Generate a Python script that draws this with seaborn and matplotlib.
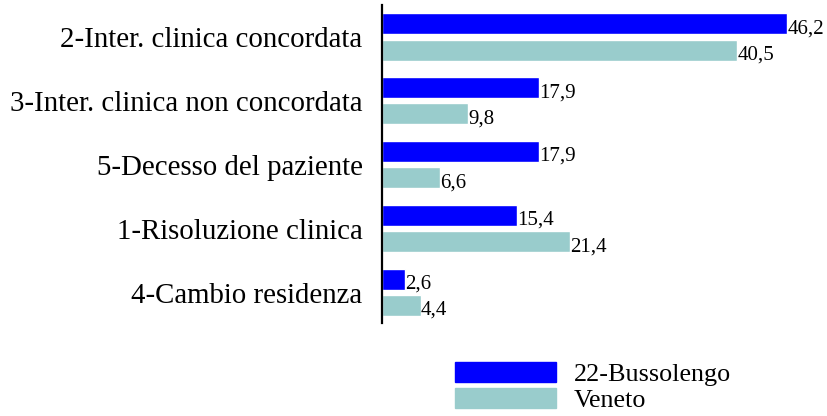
import numpy as np
import matplotlib
matplotlib.use('Agg')
import matplotlib.pyplot as plt
import seaborn as sns
import pandas as pd

# data
categories = ['2-Inter. clinica concordata',
              '3-Inter. clinica non concordata',
              '5-Decesso del paziente',
              '1-Risoluzione clinica',
              '4-Cambio residenza']
bussolengo = [46.2, 17.9, 17.9, 15.4, 2.6]
veneto = [40.5, 9.8, 6.6, 21.4, 4.4]
series_names = ['22-Bussolengo', 'Veneto']
colors = ['#0000FF', '#99CCCC']

df = pd.DataFrame({
    'categoria': categories * 2,
    'valore': bussolengo + veneto,
    'serie': [series_names[0]] * len(categories) + [series_names[1]] * len(categories),
})

sns.set_style('white')
plt.rcParams['font.family'] = ['Liberation Serif', 'DejaVu Serif']
plt.rcParams['text.color'] = 'black'
plt.rcParams['ytick.color'] = 'black'
plt.rcParams['axes.labelcolor'] = 'black'

fig = plt.figure(figsize=(8.28, 4.16), dpi=100)
ax = fig.add_axes([382/828, 1 - 322.6/416, 438.5/828, 317.6/416])

sns.barplot(data=df, x='valore', y='categoria', hue='serie', order=categories,
            hue_order=series_names, palette=colors, orient='h',
            width=0.82, gap=0.2, saturation=1, ax=ax, legend=False)

# value labels with comma decimals
for cont, vals in zip(ax.containers, [bussolengo, veneto]):
    texts = ax.bar_label(cont, labels=[f'{v:.1f}'.replace('.', ',') for v in vals],
                         padding=0, fontsize=15, color='black')
    for t in texts:
        t.xyann = (0, -3.5)

ax.set_xlim(0, 50)
ax.set_ylim(4.47, -0.5)
ax.set_xlabel('')
ax.set_ylabel('')
ax.set_xticks([])
ax.tick_params(axis='y', length=0, pad=14, labelsize=20.8, labelcolor='black')
for s in ['top', 'right', 'bottom']:
    ax.spines[s].set_visible(False)
ax.spines['left'].set_color('black')
ax.spines['left'].set_linewidth(1.6)

handles = [plt.Rectangle((0, 0), 1, 1, color=c) for c in colors]
fig.legend(handles, series_names, loc='upper left', bbox_to_anchor=(455/828, 1 - 362/416),
           frameon=False, fontsize=18.8, handlelength=3.85, handleheight=0.83,
           labelspacing=0.05, handletextpad=0.7, borderpad=0, borderaxespad=0,
           labelcolor='black')

fig.savefig('out.png', dpi=100)
